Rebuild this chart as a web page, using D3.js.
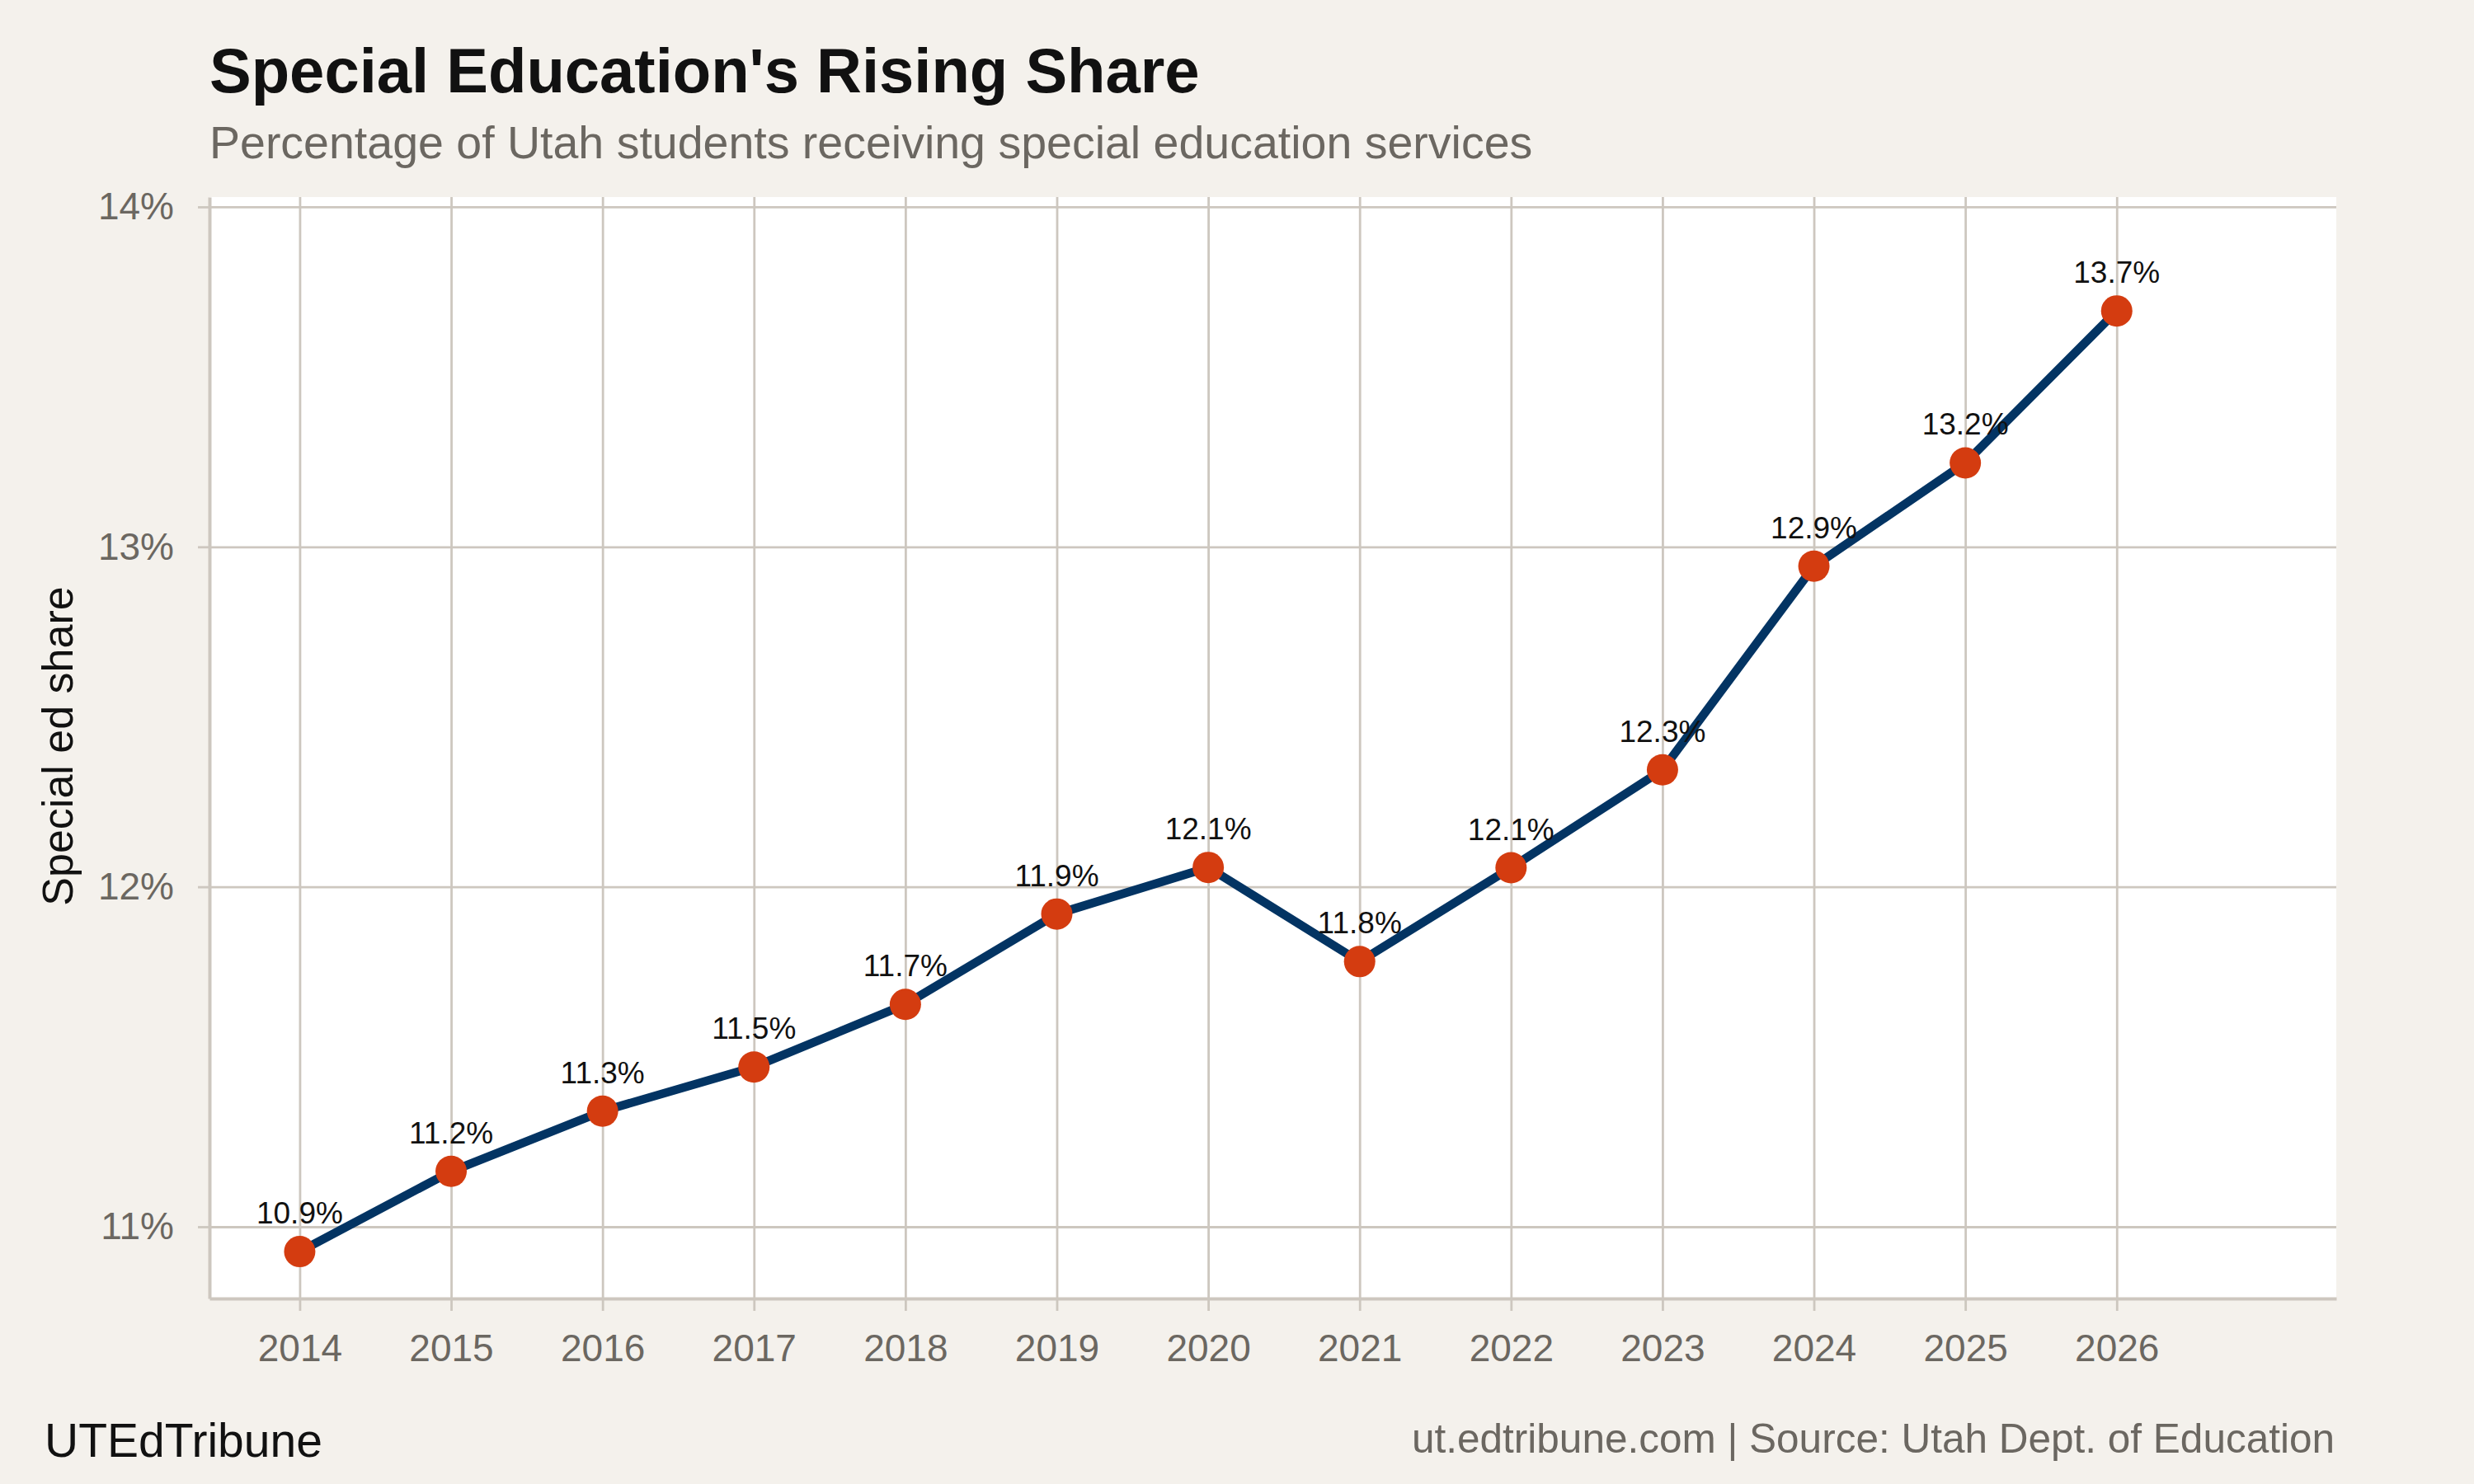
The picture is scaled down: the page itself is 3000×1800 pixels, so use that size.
<!DOCTYPE html>
<html>
<head>
<meta charset="utf-8">
<script src="https://cdn.jsdelivr.net/npm/d3@7"></script>
<style>
    html, body { margin: 0; padding: 0; background: #f4f1ec; }
    svg { display: block; }
    text { font-family: "Liberation Sans", Arial, Helvetica, sans-serif; }
</style>
</head>
<body>
<svg id="chart" width="3000" height="1800"></svg>
<script>
// 数据: 每年特殊教育学生占比 (%)
const years = [2014, 2015, 2016, 2017, 2018, 2019, 2020, 2021, 2022, 2023, 2024, 2025, 2026]
const shares = [10.927, 11.163, 11.340, 11.470, 11.654, 11.920, 12.057, 11.780, 12.056, 12.344, 12.943, 13.247, 13.694]
const yTicks = [11, 12, 13, 14]

const title = "Special Education's Rising Share"
const subtitle = 'Percentage of Utah students receiving special education services'
const yTitle = 'Special ed share'
const brand = 'UTEdTribune'
const caption = 'ut.edtribune.com | Source: Utah Dept. of Education'

const W = 3000
const H = 1800
const margin = { top: 239, right: 167, bottom: 225, left: 254 }
const width = W - margin.left - margin.right
const height = H - margin.top - margin.bottom

const colors = {
    bg: '#f4f1ec',
    panel: '#ffffff',
    grid: '#cdc7bf',
    axisText: '#6b6761',
    line: '#033463',
    dot: '#d43c10',
}

const svg = d3.select('#chart')

svg.append('rect')
    .attr('width', W)
    .attr('height', H)
    .attr('fill', colors.bg)

const g = svg.append('g')
    .attr('transform', `translate(${margin.left},${margin.top})`)

// 绘图区白底
g.append('rect')
    .attr('width', width)
    .attr('height', height)
    .attr('fill', colors.panel)

const x = d3.scaleLinear()
    .domain([2013.404, 2027.45])
    .range([0, width])

const y = d3.scaleLinear()
    .domain([10.789, 14.029])
    .range([height, 0])

// 网格线
g.append('g')
    .attr('class', 'grid-x')
    .call(d3.axisBottom(x).tickValues(years).tickSize(height).tickFormat(''))
    .call(s => s.select('.domain').remove())
    .call(s => s.selectAll('line').attr('stroke', colors.grid).attr('stroke-width', 2.8))

g.append('g')
    .attr('class', 'grid-y')
    .call(d3.axisLeft(y).tickValues(yTicks).tickSize(-width).tickFormat(''))
    .call(s => s.select('.domain').remove())
    .call(s => s.selectAll('line').attr('stroke', colors.grid).attr('stroke-width', 2.8))

// x轴
g.append('g')
    .attr('transform', `translate(0,${height})`)
    .call(d3.axisBottom(x).tickValues(years).tickFormat(d3.format('d')).tickSize(15).tickSizeOuter(0).tickPadding(28))
    .call(s => s.select('.domain').attr('stroke', colors.grid).attr('stroke-width', 4))
    .call(s => s.selectAll('.tick line').attr('stroke', colors.grid).attr('stroke-width', 2.8))
    .call(s => s.selectAll('text')
        .attr('fill', colors.axisText)
        .attr('font-size', 46)
        .style('font-family', '"Liberation Sans", Arial, sans-serif'))

// y轴
g.append('g')
    .call(d3.axisLeft(y).tickValues(yTicks).tickFormat(d => `${d}%`).tickSize(14).tickSizeOuter(0).tickPadding(29))
    .call(s => s.select('.domain').attr('stroke', colors.grid).attr('stroke-width', 4))
    .call(s => s.selectAll('.tick line').attr('stroke', colors.grid).attr('stroke-width', 2.8))
    .call(s => s.selectAll('text')
        .attr('fill', colors.axisText)
        .attr('font-size', 46)
        .style('font-family', '"Liberation Sans", Arial, sans-serif'))

const data = years.map((yr, i) => ({ year: yr, share: shares[i] }))

// 折线
const line = d3.line()
    .x(d => x(d.year))
    .y(d => y(d.share))

g.append('path')
    .datum(data)
    .attr('d', line)
    .attr('fill', 'none')
    .attr('stroke', colors.line)
    .attr('stroke-width', 10.5)
    .attr('stroke-linejoin', 'round')

// 数据点
g.selectAll('.dot')
    .data(data)
    .enter()
    .append('circle')
    .attr('class', 'dot')
    .attr('cx', d => x(d.year))
    .attr('cy', d => y(d.share))
    .attr('r', 19)
    .attr('fill', colors.dot)

// 数值标签
const fmt = d3.format('.1f')
g.selectAll('.val')
    .data(data)
    .enter()
    .append('text')
    .attr('class', 'val')
    .attr('x', d => x(d.year))
    .attr('y', d => y(d.share) - 34)
    .attr('text-anchor', 'middle')
    .attr('font-size', 37)
    .attr('fill', '#111111')
    .text(d => `${fmt(d.share)}%`)

// 标题 副标题
svg.append('text')
    .attr('x', 254)
    .attr('y', 112)
    .attr('font-size', 76)
    .attr('font-weight', 'bold')
    .attr('fill', '#111111')
    .text(title)

svg.append('text')
    .attr('x', 254)
    .attr('y', 192)
    .attr('font-size', 55.5)
    .attr('fill', colors.axisText)
    .text(subtitle)

// y轴标题
svg.append('text')
    .attr('transform', `translate(88,${margin.top + height / 2 - 2}) rotate(-90)`)
    .attr('text-anchor', 'middle')
    .attr('font-size', 52)
    .attr('fill', '#111111')
    .text(yTitle)

// 底部署名与来源
svg.append('text')
    .attr('x', 54)
    .attr('y', 1767)
    .attr('font-size', 57)
    .attr('fill', '#111111')
    .text(brand)

svg.append('text')
    .attr('x', 2831)
    .attr('y', 1762)
    .attr('text-anchor', 'end')
    .attr('font-size', 49.5)
    .attr('fill', colors.axisText)
    .text(caption)
</script>
</body>
</html>
